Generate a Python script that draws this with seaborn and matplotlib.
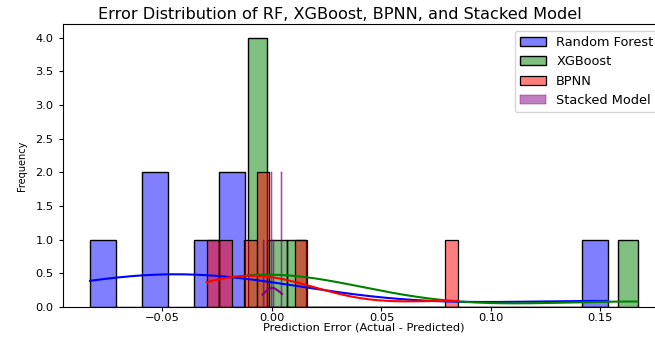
import matplotlib
matplotlib.use("Agg")
import matplotlib.pyplot as plt
import seaborn as sns
import numpy as np

# Prediction errors of each model on the test samples
rf_errors = [-0.0831, -0.058, -0.056, -0.033, -0.022, -0.016, 0.1534]
xgb_errors = [-0.011, -0.008, -0.006, -0.004, 0.003, 0.012, 0.167]
bpnn_errors = [-0.0298, -0.022, -0.010, -0.005, -0.003, 0.013, 0.0849]
stacked_errors = [-0.0043, -0.0035, 0.0000, 0.0000, 0.0008, 0.0046, 0.0046]

models = ['Random Forest', 'XGBoost', 'BPNN', 'Stacked Model']
colors = ['blue', 'green', 'red', 'purple']

fig = plt.figure(figsize=(6.55, 3.38), dpi=100)
# axes run a little past the right edge, as in the cropped original
ax = fig.add_axes([0.0956, 0.0917, 0.9197, 0.837])

for errors, name, color in zip([rf_errors, xgb_errors, bpnn_errors, stacked_errors], models, colors):
    # stacked bins are ~1px wide, so draw them as thin purple lines
    kws = {'linewidth': 0.3, 'edgecolor': color} if name == 'Stacked Model' else {}
    sns.histplot(errors, bins=20, kde=True, color=color, label=name, alpha=0.5, ax=ax, **kws)

ax.set_title('Error Distribution of RF, XGBoost, BPNN, and Stacked Model',
             fontsize=11.6, x=0.46, pad=4)
ax.set_xlabel('Prediction Error (Actual - Predicted)', fontsize=8.2, labelpad=0)
ax.set_ylabel('Frequency', fontsize=7, labelpad=6)
ax.tick_params(labelsize=8.2, length=3)
ax.tick_params(axis='x', pad=1)
ax.legend(fontsize=9.3, loc='upper right')

fig.savefig('out.png', dpi=100)
